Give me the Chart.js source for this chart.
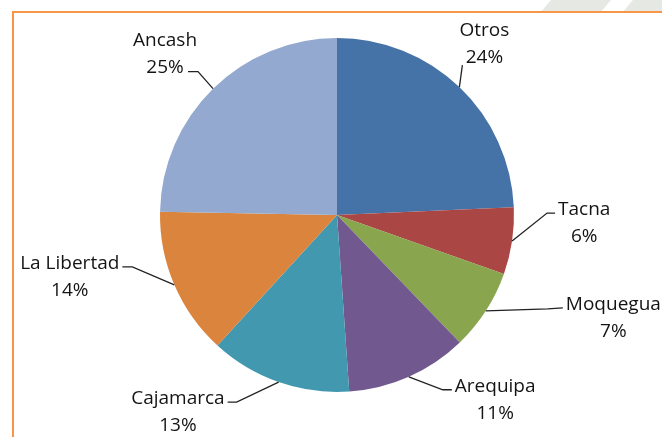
<!DOCTYPE html>
<html>
<head>
<meta charset="utf-8">
<script src="https://cdn.jsdelivr.net/npm/chart.js@4.4.0/dist/chart.umd.min.js"></script>
<style>
  html, body { margin: 0; padding: 0; background: #fff; overflow: hidden; width: 662px; height: 437px; }
  .wm { position: absolute; top: -4px; height: 15px; background: #e6e9e3; transform: skewX(-40deg); }
  #frame { position: absolute; left: 12px; top: 11px; width: 700px; height: 500px; border: 2px solid #F79646; box-sizing: border-box; background: #fff; }
  #myChart { position: absolute; left: 0; top: 0; }
</style>
</head>
<body>
<div class="wm" style="left:548px;width:60px"></div>
<div class="wm" style="left:630px;width:40px"></div>
<div id="frame"></div>
<canvas id="myChart" width="662" height="437"></canvas>
<script>
const regiones = ['Otros', 'Tacna', 'Moquegua', 'Arequipa', 'Cajamarca', 'La Libertad', 'Ancash'];
const porcentajes = [24.3, 6.1, 7.4, 11.1, 12.9, 13.5, 24.7];
const colores = ['#4572A7', '#AA4643', '#89A54E', '#71588F', '#4198AF', '#DB843D', '#93A9CF'];

// leader lines, relative to the point on the slice edge at its mid angle
// elbow = bend, stub = end of the line; side tells where the text sits
const etiquetas = [
    { elbow: [3, -22], stub: null, side: 'top', text: [25, -57] },
    { elbow: [35, -28], stub: [43, -28], side: 'right' },
    { elbow: [62, -2], stub: [77, -3], side: 'right' },
    { elbow: [34, 13], stub: [43, 13], side: 'right' },
    { elbow: [-42, 20], stub: [-51, 20], side: 'left' },
    { elbow: [-42, -18], stub: [-52, -18], side: 'left' },
    { elbow: [-15, -17], stub: [-25, -17], side: 'top', text: [-48, -48] }
];

const leaderLabels = {
    id: 'leaderLabels',
    afterDraw(chart) {
        const ctx = chart.ctx;
        const meta = chart.getDatasetMeta(0);
        ctx.save();
        ctx.font = '19px "Open Sans", sans-serif';
        ctx.textAlign = 'center';
        ctx.textBaseline = 'middle';
        meta.data.forEach((arc, i) => {
            const p = arc.getProps(['x', 'y', 'startAngle', 'endAngle', 'outerRadius'], true);
            const mid = (p.startAngle + p.endAngle) / 2;
            const ax = p.x + Math.cos(mid) * p.outerRadius;
            const ay = p.y + Math.sin(mid) * p.outerRadius;
            const e = etiquetas[i];
            ctx.strokeStyle = '#222';
            ctx.lineWidth = 1.3;
            ctx.beginPath();
            ctx.moveTo(ax, ay);
            ctx.lineTo(ax + e.elbow[0], ay + e.elbow[1]);
            if (e.stub) ctx.lineTo(ax + e.stub[0], ay + e.stub[1]);
            ctx.stroke();

            const nombre = regiones[i];
            const w = ctx.measureText(nombre).width;
            let tx, ty;
            if (e.side === 'top') {
                tx = ax + e.text[0];
                ty = ay + e.text[1];
            } else if (e.side === 'right') {
                tx = ax + e.stub[0] + 3 + w / 2;
                ty = ay + e.stub[1] - 3;
            } else {
                tx = ax + e.stub[0] - 3 - w / 2;
                ty = ay + e.stub[1] - 3;
            }
            ctx.fillStyle = '#141414';
            ctx.fillText(nombre, tx, ty);
            ctx.fillText(Math.round(porcentajes[i]) + '%', tx, ty + 27);
        });
        ctx.restore();
    }
};

const ctx = document.getElementById('myChart').getContext('2d');
const myChart = new Chart(ctx, {
    type: 'pie',
    data: {
        labels: regiones,
        datasets: [{
            data: porcentajes,
            backgroundColor: colores,
            borderWidth: 0
        }]
    },
    options: {
        responsive: false,
        animation: false,
        layout: { padding: { left: 12, top: 38, bottom: 45, right: 0 } },
        plugins: {
            legend: { display: false },
            tooltip: { enabled: false }
        }
    },
    plugins: [leaderLabels]
});
</script>
</body>
</html>
